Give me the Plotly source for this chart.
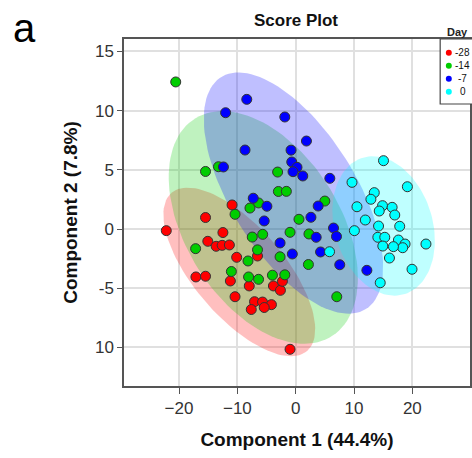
import numpy as np
import plotly.graph_objects as go

# ---------------- data ----------------
days = ["-28", "-14", "-7", "0"]
colors = ["#FF0000", "#00CD00", "#0000FF", "#00FFFF"]
fills = ["rgba(255,0,0,0.25)", "rgba(0,205,0,0.25)", "rgba(0,0,255,0.25)", "rgba(0,255,255,0.25)"]

red_x = [-10.91, -15.46, -22.19, -12.48, -15.07, -13.64, -12.61, -11.37, -10.12, -6.55,
         -17.11, -15.46, -11.20, -7.96, -3.82, -2.62, -2.28, -10.40, -7.06, -5.69,
         -4.16, -5.40, -7.62, -0.97]
red_y = [2.03, 0.97, -0.14, -0.30, -1.04, -1.46, -1.38, -1.35, -2.39, -2.28,
         -4.05, -3.99, -4.39, -4.81, -4.81, -5.18, -4.42, -5.72, -6.14, -6.17,
         -6.39, -6.63, -6.80, -10.16]

green_x = [-20.57, -15.46, -13.24, -3.10, -2.97, -1.60, -7.84, -6.37, -10.40, 0.56,
           -0.97, -5.66, -7.45, 2.27, -17.16, -6.55, -8.18, -2.68, 2.18, -11.03,
           -8.08, -6.37, -3.99, -1.87, 4.99, 7.04]
green_y = [12.42, 4.86, 5.26, 4.81, 3.17, 3.18, 1.77, 2.20, 1.24, 0.82,
           -0.28, -0.45, -0.68, -0.42, -1.66, -1.76, -2.70, -2.35, -3.00, -3.59,
           -4.05, -4.25, -3.90, -3.87, 2.36, -5.72]

blue_x = [-8.39, -12.02, -1.87, 1.84, -8.69, -0.80, -0.68, 0.22, -0.46, 1.21,
          5.85, -12.39, -7.28, -4.94, 3.85, -5.40, 2.61, 6.48, 6.99, 3.51,
          -2.68, -0.58, 4.26, 7.55, 12.20]
blue_y = [10.95, 9.82, 9.46, 7.43, 6.67, 6.66, 5.66, 5.21, 4.84, 4.48,
          4.28, 5.24, 2.60, 1.92, 1.94, 0.68, 0.99, 0.08, -0.63, -0.70,
          -1.18, -2.11, -1.94, -3.02, -3.49]

cyan_x = [15.05, 9.65, 19.14, 13.47, 12.89, 10.50, 14.88, 16.53, 14.32, 16.98,
          11.93, 14.20, 17.83, 10.06, 14.08, 15.27, 17.61, 18.75, 18.34, 16.75,
          14.93, 22.33, 16.07, 19.94, 14.49, 5.80]
cyan_y = [5.77, 3.94, 3.57, 3.07, 2.51, 1.88, 1.97, 1.83, 1.52, 1.18,
          0.76, 0.25, 0.23, -0.14, -0.70, -0.70, -0.93, -1.27, -1.58, -1.49,
          -1.44, -1.27, -2.45, -3.40, -4.54, -1.92]

series_x = [red_x, green_x, blue_x, cyan_x]
series_y = [red_y, green_y, blue_y, cyan_y]

x_ticks = [-20, -10, 0, 10, 20]
y_ticks = [-10, -5, 0, 5, 10, 15]
y_ticktext = ["10", "-5", "0", "5", "10", "15"]

FONT = "Liberation Sans, Arial, sans-serif"
CHI = np.sqrt(5.991)  # 95% region, 2 dof


def conf_ellipse(xs, ys, n=120):
    pts = np.column_stack([xs, ys])
    mu = pts.mean(axis=0)
    cov = np.cov(pts, rowvar=False)
    vals, vecs = np.linalg.eigh(cov)
    t = np.linspace(0, 2 * np.pi, n)
    circ = np.vstack([np.cos(t), np.sin(t)])
    e = vecs @ (np.sqrt(vals)[:, None] * circ) * CHI
    return e[0] + mu[0], e[1] + mu[1]


fig = go.Figure()

for xs, ys, fc, name in zip(series_x, series_y, fills, days):
    ex, ey = conf_ellipse(xs, ys)
    fig.add_trace(go.Scatter(x=ex, y=ey, mode="lines", fill="toself", fillcolor=fc,
                             line=dict(width=0), hoverinfo="skip", showlegend=False,
                             name=name + " region"))

for xs, ys, c, name in zip(series_x, series_y, colors, days):
    fig.add_trace(go.Scatter(x=xs, y=ys, mode="markers", name=name, showlegend=False,
                             marker=dict(size=10, color=c,
                                         line=dict(color="#333333", width=1))))

# plot area in pixels: x 124..472, y 39..386
L, R, T, B = 124, 472, 39, 386
W, H = 472, 458
pw, ph = R - L, B - T


def px(xp):
    return (xp - L) / pw


def py(yp):
    return (B - yp) / ph


shapes = []
annotations = []

# legend box (inside top-right corner, cut by the image edge)
shapes.append(dict(type="rect", xref="paper", yref="paper", x0=px(442), x1=px(480),
                   y0=py(104), y1=py(39), line=dict(color="#444444", width=1.2),
                   fillcolor="white", layer="above"))
for i, (d, c) in enumerate(zip(days, colors)):
    cy = 52.7 + 13 * i
    shapes.append(dict(type="circle", xref="paper", yref="paper",
                       x0=px(450.7 - 3), x1=px(450.7 + 3), y0=py(cy + 3), y1=py(cy - 3),
                       fillcolor=c, line=dict(width=0), layer="above"))
    annotations.append(dict(text=d, xref="paper", yref="paper", x=px(464.5), y=py(cy),
                            xanchor="center", yanchor="middle", showarrow=False,
                            font=dict(family=FONT, size=10, color="#111111")))
annotations.append(dict(text="<b>Day</b>", xref="paper", yref="paper", x=px(459), y=py(32),
                        xanchor="center", yanchor="middle", showarrow=False,
                        font=dict(family=FONT, size=11, color="#222222")))
# panel letter
annotations.append(dict(text="a", xref="paper", yref="paper", x=px(24), y=py(28),
                        xanchor="center", yanchor="middle", showarrow=False,
                        font=dict(family=FONT, size=40, color="#000000")))

fig.update_layout(
    width=W, height=H,
    margin=dict(l=L, r=W - R, t=T, b=H - B),
    paper_bgcolor="white", plot_bgcolor="white",
    title=dict(text="<b>Score Plot</b>", xref="paper", x=px(297), xanchor="center",
               yref="container", y=1 - 20 / H,
               yanchor="middle", font=dict(family=FONT, size=17, color="#111111")),
    font=dict(family=FONT),
    showlegend=False,
    shapes=shapes, annotations=annotations,
    xaxis=dict(range=[(L - 296.7) / 5.867, (R - 296.7) / 5.867],
               tickvals=x_ticks, ticks="outside", ticklen=6, tickcolor="#555555",
               tickfont=dict(family=FONT, size=17, color="#333333"),
               showgrid=True, gridcolor="#E0E0E0", gridwidth=1.5, zeroline=False,
               showline=True, linecolor="#555555", linewidth=1.5, mirror=True,
               title=dict(text="<b>Component 1 (44.4%)</b>", standoff=16,
                          font=dict(family=FONT, size=19, color="#111111"))),
    yaxis=dict(range=[(229 - B) / 11.84, (229 - T) / 11.84],
               tickvals=y_ticks, ticktext=y_ticktext, ticks="outside", ticklen=5,
               tickcolor="#555555",
               tickfont=dict(family=FONT, size=17, color="#333333"),
               showgrid=True, gridcolor="#E0E0E0", gridwidth=1.5, zeroline=False,
               showline=True, linecolor="#555555", linewidth=1.5, mirror=True,
               title=dict(text="<b>Component 2 (7.8%)</b>", standoff=12,
                          font=dict(family=FONT, size=19, color="#111111"))),
)

fig.write_html("out.html", config={"displayModeBar": False},
               post_script="document.body.style.margin='0px';document.body.style.overflow='hidden';")
